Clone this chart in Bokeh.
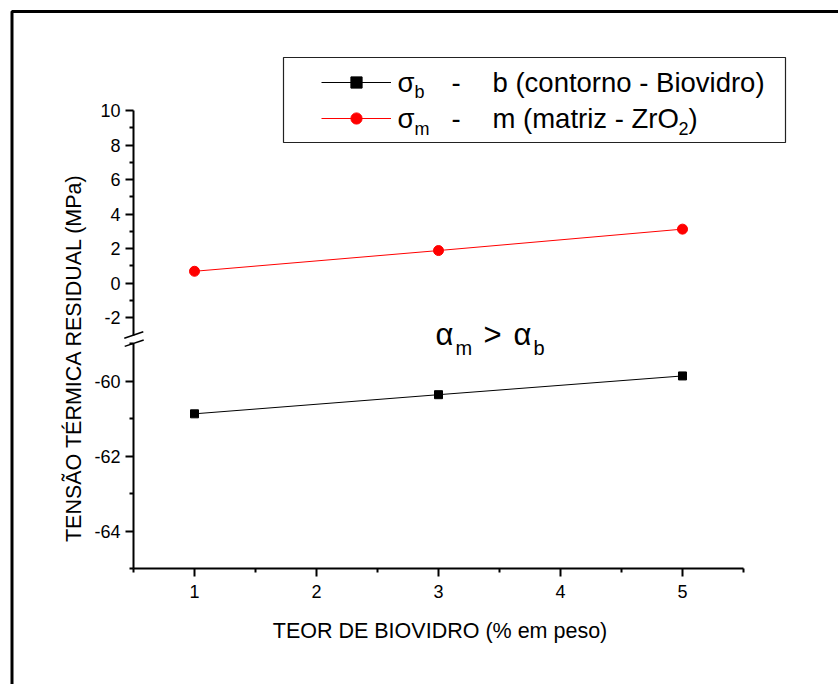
import math
from bokeh.plotting import figure
from bokeh.models import (Range1d, LinearAxis, FixedTicker, Label, BoxAnnotation,
                          Arrow, Legend, LegendItem)
from bokeh.embed import file_html
from bokeh.resources import INLINE

# ---------------- data ----------------
teor = [1, 3, 5]
sigma_b = [-60.87, -60.36, -59.86]   # contorno - Biovidro
sigma_m = [0.69, 1.89, 3.13]         # matriz - ZrO2

x_ticks = [1, 2, 3, 4, 5]
x_minor = [0.5, 1.5, 2.5, 3.5, 4.5, 5.5]
y_upper_ticks = [-2, 0, 2, 4, 6, 8, 10]
y_upper_minor = [-1, 1, 3, 5, 7, 9]
y_lower_ticks = [-64, -62, -60]
y_lower_minor = [-65, -63, -61, -59]

x_label = "TEOR DE BIOVIDRO (% em peso)"
y_label = "TENSÃO TÉRMICA RESIDUAL (MPa)"

FONT = "Liberation Sans"
W, H = 838, 684

p = figure(width=W, height=H, output_backend="svg", toolbar_location=None,
           title=None, x_range=Range1d(-0.5902, 6.2787),
           y_range=Range1d(-23.237, 16.369),
           x_axis_location=None, y_axis_location=None,
           min_border=0, min_border_left=0, min_border_right=0,
           min_border_top=0, min_border_bottom=0)
p.extra_y_ranges = {"lower": Range1d(-68.088, -49.848)}
p.grid.visible = False
p.outline_line_color = None
p.background_fill_color = "white"
p.border_fill_color = "white"


def style_axis(ax):
    ax.axis_line_width = 2
    ax.axis_line_color = "black"
    ax.major_tick_line_width = 2
    ax.minor_tick_line_width = 2
    ax.major_tick_line_color = "black"
    ax.minor_tick_line_color = "black"
    ax.major_tick_in = 0
    ax.major_tick_out = 8
    ax.minor_tick_in = 0
    ax.minor_tick_out = 4
    ax.major_label_text_font = FONT
    ax.major_label_text_font_size = "18px"
    ax.major_label_text_color = "black"
    ax.major_label_standoff = 5


xaxis = LinearAxis(y_range_name="lower", fixed_location=-65,
                   ticker=FixedTicker(ticks=x_ticks, minor_ticks=x_minor),
                   bounds=(0.5, 5.5))
style_axis(xaxis)
xaxis.major_label_standoff = 8
xaxis.major_label_overrides = {t: str(t) for t in x_ticks}
p.add_layout(xaxis, "below")

yup = LinearAxis(ticker=FixedTicker(ticks=y_upper_ticks, minor_ticks=y_upper_minor),
                 bounds=(-3, 10), fixed_location=0.5)
style_axis(yup)
yup.major_label_overrides = {t: str(t) for t in y_upper_ticks}
p.add_layout(yup, "left")

ylo = LinearAxis(y_range_name="lower",
                 ticker=FixedTicker(ticks=y_lower_ticks, minor_ticks=y_lower_minor),
                 bounds=(-65, -59), fixed_location=0.5)
style_axis(ylo)
ylo.major_label_overrides = {t: str(t) for t in y_lower_ticks}
p.add_layout(ylo, "left")

# ---------------- glyphs ----------------
line_m = p.line(teor, sigma_m, line_color="#ff0000", line_width=1)
pts_m = p.scatter(teor, sigma_m, marker="circle", size=10,
                  fill_color="#ff0000", line_color="#ff0000")
line_b = p.line(teor, sigma_b, y_range_name="lower", line_color="black", line_width=1)
pts_b = p.scatter(teor, sigma_b, y_range_name="lower", marker="square", size=8,
                  fill_color="black", line_color="black")


def sy(page_y):
    return H - page_y


# ---------------- axis break marks ----------------
for cx, cy in ((133.3, 334.5), (133.7, 342.7)):
    p.add_layout(Arrow(end=None, start=None, x_start=cx - 9.5, y_start=sy(cy) - 3.2,
                       x_end=cx + 9.5, y_end=sy(cy) + 3.2, start_units="screen",
                       end_units="screen", line_color="black", line_width=1.5))

# ---------------- legend ----------------
legend = Legend(items=[LegendItem(label=" ", renderers=[line_b, pts_b]),
                       LegendItem(label=" ", renderers=[line_m, pts_m])],
                location=(321, sy(132.3)), padding=0, spacing=8, margin=0,
                glyph_width=70, glyph_height=28, label_height=28, label_width=1,
                label_standoff=0, border_line_color=None, background_fill_alpha=0,
                label_text_font_size="1px")
p.add_layout(legend)

p.add_layout(BoxAnnotation(left=283, right=785, top=sy(57), bottom=sy(142),
                           left_units="screen", right_units="screen",
                           top_units="screen", bottom_units="screen",
                           fill_alpha=0, fill_color=None, line_color="#222222",
                           line_alpha=1, line_width=1.2))

# outer frame (top and left)
p.add_layout(BoxAnnotation(left=11.5, right=W + 50, top=sy(11), bottom=-50,
                           left_units="screen", right_units="screen",
                           top_units="screen", bottom_units="screen",
                           fill_alpha=0, fill_color=None, line_color="black",
                           line_alpha=1, line_width=3))


def lab(text, x, page_y, size, **kw):
    p.add_layout(Label(x=x, y=sy(page_y), x_units="screen", y_units="screen",
                       text=text, text_font=FONT, text_font_size=size,
                       text_color="black",
                       text_baseline=kw.pop("text_baseline", "alphabetic"), **kw))


# legend texts
LS, SS = "27.5px", "18px"
R1, R2 = 81.5, 118
lab("σ", 397, R1, LS)
lab("b", 414, R1 + 10, SS)
lab("-", 451, R1, LS)
lab("b (contorno - Biovidro)", 492, R1, LS)
lab("σ", 397, R2, LS)
lab("m", 414, R2 + 10, SS)
lab("-", 451, R2, LS)
lab("m (matriz - ZrO", 492, R2, LS)
lab("2", 678, R2 + 10, SS)
lab(")", 688, R2, LS)

# alpha annotation
AS, ASS = "31px", "20px"
A0 = 334
lab("α", 435, A0, AS)
lab("m", 455, A0 + 13.4, ASS)
lab(">", 483, A0, AS)
lab("α", 513, A0, AS)
lab("b", 533, A0 + 13.4, ASS)

# axis titles
lab(x_label, 439.5, 630, "21.5px", text_align="center", text_baseline="middle")
lab(y_label, 73, 357, "21.5px", text_align="center", text_baseline="middle",
    angle=math.pi / 2)

open("out.html", "w").write(file_html(p, INLINE))
